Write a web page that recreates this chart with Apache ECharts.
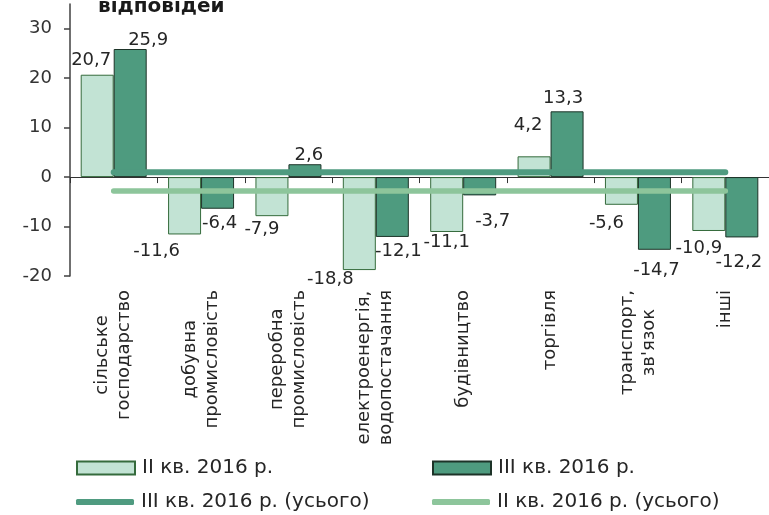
<!DOCTYPE html>
<html>
<head>
<meta charset="utf-8">
<script src="https://cdn.jsdelivr.net/npm/echarts@6/dist/echarts.min.js"></script>
<style>
html, body { margin: 0; padding: 0; background: #fff; }
#chart { width: 769px; height: 515px; }
</style>
</head>
<body>
<div id="chart"></div>
<script>
const categories = [
    'сільське\nгосподарство',
    'добувна\nпромисловість',
    'переробна\nпромисловість',
    'електроенергія,\nводопостачання',
    'будівництво',
    'торгівля',
    'транспорт,\nзв\'язок',
    'інші'
];
const q2Values = [20.7, -11.6, -7.9, -18.8, -11.1, 4.2, -5.6, -10.9];
const q3Values = [25.9, -6.4, 2.6, -12.1, -3.7, 13.3, -14.7, -12.2];
const q3Total = [1.0, 1.0, 1.0, 1.0, 1.0, 1.0, 1.0, 1.0];
const q2Total = [-2.8, -2.8, -2.8, -2.8, -2.8, -2.8, -2.8, -2.8];
const yTicks = [-20, -10, 0, 10, 20, 30];

const NAME_Q2 = 'II кв. 2016 р.';
const NAME_Q3 = 'III кв. 2016 р.';
const NAME_Q3_TOTAL = 'III кв. 2016 р. (усього)';
const NAME_Q2_TOTAL = 'II кв. 2016 р. (усього)';

// ручні зсуви підписів, як у вихідному малюнку
const q2LabelShift = [[-6, 0], [-28, 3], [-10, -1], [-29, -5], [0, -4], [-6, -17], [-15, 5], [-10, 3]];
const q3LabelShift = [[18, 5], [2, 1], [4, 5], [6, 0], [13, 12], [-4, 1], [2, 7], [-3, 11]];

const FONT = 'DejaVu Sans';
const TEXT_COLOR = '#262626';

function barData(values, shifts) {
    return values.map((v, i) => ({
        value: v,
        label: { position: v >= 0 ? 'top' : 'bottom', offset: shifts[i] }
    }));
}

function fmt(v) {
    return String(v).replace('.', ',');
}

const chart = echarts.init(document.getElementById('chart'));

const legendCommon = {
    itemWidth: 58,
    itemGap: 0,
    padding: 0,
    textStyle: { fontFamily: FONT, fontSize: 20, color: TEXT_COLOR, padding: [0, 0, 0, 2] },
    selectedMode: false
};

chart.setOption({
    animation: false,
    backgroundColor: '#fff',
    textStyle: { fontFamily: FONT },
    title: {
        text: 'відповідей',
        left: 98,
        top: -3,
        padding: 0,
        textStyle: { fontFamily: FONT, fontSize: 20, fontWeight: 'bold', color: '#1a1a1a' }
    },
    legend: [
        { ...legendCommon, data: [{ name: NAME_Q2, icon: 'rect' }], left: 76, top: 458, itemHeight: 13 },
        { ...legendCommon, data: [{ name: NAME_Q3, icon: 'rect' }], left: 432, top: 458, itemHeight: 13 },
        { ...legendCommon, data: [{ name: NAME_Q3_TOTAL, icon: 'roundRect' }], left: 76, top: 492, itemHeight: 6 },
        { ...legendCommon, data: [{ name: NAME_Q2_TOTAL, icon: 'roundRect' }], left: 432, top: 492, itemHeight: 6 }
    ],
    grid: { left: 70, right: 0, top: 4, bottom: 239, containLabel: false, outerBoundsMode: 'none' },
    xAxis: {
        type: 'category',
        data: categories,
        axisLine: { onZero: true, lineStyle: { color: '#333', width: 1 } },
        axisTick: { show: true, length: 6, lineStyle: { color: '#333' } },
        axisLabel: {
            interval: 0,
            rotate: 90,
            margin: 14,
            color: TEXT_COLOR,
            fontFamily: FONT,
            fontSize: 18,
            formatter: v => v.split('\n').map(s => '{c|' + s + '}').join('\n'),
            rich: { c: { align: 'center', fontFamily: FONT, fontSize: 18, lineHeight: 22, color: TEXT_COLOR } }
        }
    },
    yAxis: {
        type: 'value',
        min: -20,
        max: 35,
        interval: 5,
        splitLine: { show: false },
        axisLine: { show: true, lineStyle: { color: '#404040', width: 1.5 } },
        axisTick: { show: true, length: 6, customValues: yTicks, lineStyle: { color: '#404040', width: 1.5 } },
        axisLabel: { customValues: yTicks, margin: 18, color: '#333', fontFamily: FONT, fontSize: 18 }
    },
    series: [
        {
            name: NAME_Q2,
            type: 'bar',
            barWidth: 33,
            barGap: '0%',
            data: barData(q2Values, q2LabelShift),
            itemStyle: { color: '#c2e3d4', borderColor: '#356b3c', borderWidth: 1 },
            label: { show: true, distance: 5, color: TEXT_COLOR, fontFamily: FONT, fontSize: 18, formatter: p => fmt(p.value) }
        },
        {
            name: NAME_Q3,
            type: 'bar',
            barWidth: 33,
            barGap: '0%',
            data: barData(q3Values, q3LabelShift),
            itemStyle: { color: '#4e9b7f', borderColor: '#1d3328', borderWidth: 1 },
            label: { show: true, distance: 5, color: TEXT_COLOR, fontFamily: FONT, fontSize: 18, formatter: p => fmt(p.value) }
        },
        {
            name: NAME_Q3_TOTAL,
            type: 'line',
            data: q3Total,
            showSymbol: false,
            z: 5,
            lineStyle: { color: '#4f9b80', width: 6, cap: 'round' },
            itemStyle: { color: '#4f9b80' }
        },
        {
            name: NAME_Q2_TOTAL,
            type: 'line',
            data: q2Total,
            showSymbol: false,
            z: 5,
            lineStyle: { color: '#8dc59b', width: 5.5, cap: 'round' },
            itemStyle: { color: '#8dc59b' }
        }
    ]
});
</script>
</body>
</html>
